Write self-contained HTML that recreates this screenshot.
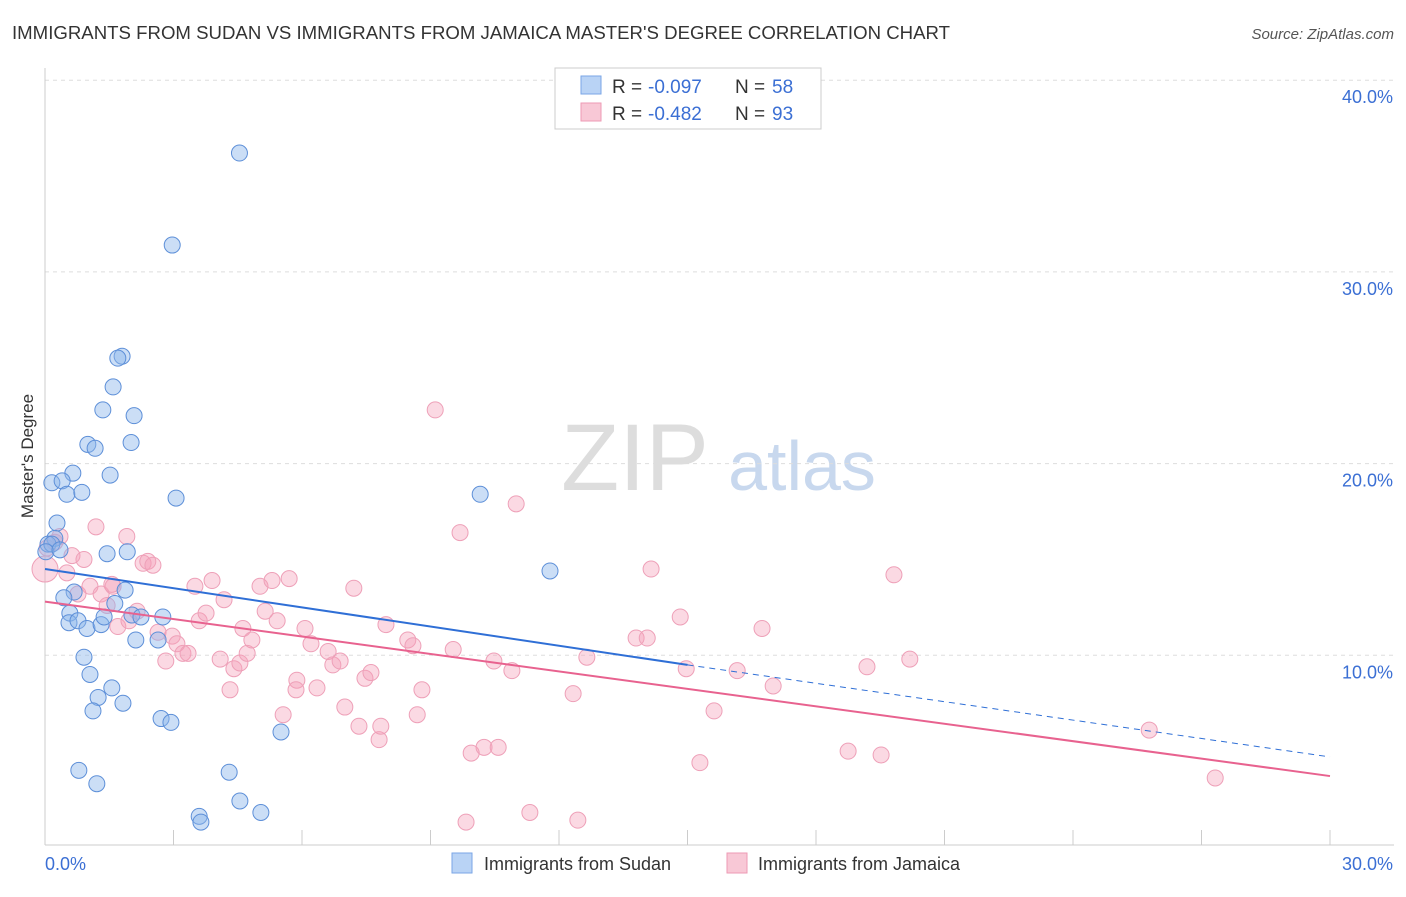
<!DOCTYPE html>
<html><head><meta charset="utf-8">
<style>
body{margin:0;background:#fff;font-family:"Liberation Sans",sans-serif;}
svg text{font-family:"Liberation Sans",sans-serif;}
</style></head>
<body>
<svg id="chart" width="1406" height="892" viewBox="0 0 1406 892" xmlns="http://www.w3.org/2000/svg">
<text x="12" y="39" font-size="18" fill="#333" textLength="938" lengthAdjust="spacingAndGlyphs">IMMIGRANTS FROM SUDAN VS IMMIGRANTS FROM JAMAICA MASTER'S DEGREE CORRELATION CHART</text>
<text x="1394" y="39" font-size="15" font-style="italic" fill="#555" text-anchor="end">Source: ZipAtlas.com</text>
<text transform="translate(33,456) rotate(-90)" font-size="17" fill="#333" text-anchor="middle">Master's Degree</text>
<g>
<text x="635" y="490" font-size="95" font-family="Liberation Serif" fill="#ddd" text-anchor="middle">ZIP</text>
<text x="802" y="490" font-size="70" fill="#c8d8ee" text-anchor="middle">atlas</text>
</g>
<g id="grid"></g>
<g id="marks"></g>
<g>
<rect x="555" y="68" width="266" height="61" fill="#fff" stroke="#ccc"/>
<rect x="581" y="76" width="20" height="18" fill="#b9d3f5" stroke="#7aa6e6"/>
<rect x="581" y="103" width="20" height="18" fill="#f8c8d6" stroke="#ee9ab4"/>
<text x="612" y="93" font-size="19" fill="#333">R = </text>
<text x="648" y="93" font-size="19" fill="#3b6fd4">-0.097</text>
<text x="735" y="93" font-size="19" fill="#333">N = </text>
<text x="772" y="93" font-size="19" fill="#3b6fd4">58</text>
<text x="612" y="120" font-size="19" fill="#333">R = </text>
<text x="648" y="120" font-size="19" fill="#3b6fd4">-0.482</text>
<text x="735" y="120" font-size="19" fill="#333">N = </text>
<text x="772" y="120" font-size="19" fill="#3b6fd4">93</text>
</g>
<g>
<rect x="452" y="853" width="20" height="20" fill="#b9d3f5" stroke="#7aa6e6"/>
<text x="484" y="870" font-size="18" fill="#333">Immigrants from Sudan</text>
<rect x="727" y="853" width="20" height="20" fill="#f8c8d6" stroke="#ee9ab4"/>
<text x="758" y="870" font-size="18" fill="#333">Immigrants from Jamaica</text>
</g>
</svg>
<script>
const xTicks=[0,3,6,9,12,15,18,21,24,27,30];
const yTicks=[10,20,30,40];
const sudanX=[4.54,2.97,1.80,1.70,1.59,1.35,2.08,1.00,2.01,1.17,0.65,1.52,0.16,0.40,0.51,0.86,3.06,10.16,0.28,0.23,0.07,0.16,0.02,0.35,1.92,1.45,11.79,0.68,0.44,1.87,1.63,0.58,0.56,0.77,0.98,1.31,1.38,2.03,2.75,2.24,2.12,2.64,0.91,1.05,1.56,1.24,1.12,1.82,2.71,2.94,5.51,0.79,1.21,4.30,4.55,3.60,3.64,5.04];
const sudanY=[36.2,31.4,25.6,25.5,24.0,22.8,22.5,21.0,21.1,20.8,19.5,19.4,19.0,19.1,18.4,18.5,18.2,18.4,16.9,16.1,15.8,15.8,15.4,15.5,15.4,15.3,14.4,13.3,13.0,13.4,12.7,12.2,11.7,11.8,11.4,11.6,12.0,12.1,12.0,12.0,10.8,10.8,9.9,9.0,8.3,7.8,7.1,7.5,6.7,6.5,6.0,4.0,3.3,3.9,2.4,1.6,1.3,1.8];
const jamX=[0,0.23,0.35,0.05,0.51,0.63,0.91,1.19,0.77,1.05,1.31,1.45,1.59,1.70,1.91,1.56,1.96,2.15,2.29,2.40,2.52,2.64,2.82,2.97,3.08,3.22,3.34,3.50,3.60,3.76,3.90,4.09,4.18,4.32,4.41,4.55,4.62,4.72,4.83,5.02,5.14,5.30,5.42,5.56,5.70,5.88,5.86,6.07,6.21,6.35,6.61,6.72,6.89,7.00,7.21,7.33,7.47,7.61,7.80,7.84,7.96,8.47,8.59,8.69,8.80,9.11,9.53,9.69,9.95,10.25,10.58,10.48,10.90,11.00,9.83,11.32,12.33,12.44,12.65,13.80,14.06,14.15,14.83,14.97,15.29,15.62,16.16,16.74,17.00,18.75,19.19,19.52,19.82,20.19,25.78,27.32];
const jamY=[14.5,15.9,16.2,15.6,14.3,15.2,15.0,16.7,13.2,13.6,13.2,12.6,13.6,11.5,16.2,13.7,11.8,12.3,14.8,14.9,14.7,11.2,9.7,11.0,10.6,10.1,10.1,13.6,11.8,12.2,13.9,9.8,12.9,8.2,9.3,9.6,11.4,10.1,10.8,13.6,12.3,13.9,11.8,6.9,14.0,8.7,8.2,11.4,10.6,8.3,10.2,9.5,9.7,7.3,13.5,6.3,8.8,9.1,5.6,6.3,11.6,10.8,10.5,6.9,8.2,22.8,10.3,16.4,4.9,5.2,5.2,9.7,9.2,17.9,1.3,1.8,8.0,1.4,9.9,10.9,10.9,14.5,12.0,9.3,4.4,7.1,9.2,11.4,8.4,5.0,9.4,4.8,14.2,9.8,6.1,3.6];
const sudanTrend=[0,14.5,13.4,9.5,30,4.7];
const jamTrend=[0,12.8,30,3.7];
const X0=45,X1=1330,Y0=847,PX=(X1-X0)/30,PY=19.17;
const sx=v=>X0+v*PX, sy=v=>Y0-v*PY;
const NS='http://www.w3.org/2000/svg';
function mk(t,a,p){const e=document.createElementNS(NS,t);for(const k in a)e.setAttribute(k,a[k]);p.appendChild(e);return e;}
const grid=document.getElementById('grid'),marks=document.getElementById('marks');
yTicks.forEach(v=>{
 const l=mk('line',{x1:X0,x2:1394,y1:sy(v),y2:sy(v),stroke:'#ddd','stroke-dasharray':'4 4'},grid);
 
 
 const t=mk('text',{x:1393,y:sy(v)+23,'font-size':18,fill:'#3b6fd4','text-anchor':'end'},grid);
 t.textContent=v.toFixed(1)+'%';
 
 
});
const ax=mk('line',{x1:X0,x2:1394,y1:845,y2:845,stroke:'#ccc'},grid);


const ay=mk('line',{x1:X0,x2:X0,y1:68,y2:845,stroke:'#ccc'},grid);


xTicks.forEach(v=>{
 const l=mk('line',{x1:sx(v),x2:sx(v),y1:830,y2:845,stroke:'#ccc'},grid);
 
 
});
[[0,'start'],[30,'end']].forEach(([v,a])=>{
 const t=mk('text',{x:v===0?45:1393,y:870,'font-size':18,fill:'#3b6fd4','text-anchor':a},grid);
 t.textContent=v.toFixed(1)+'%';
 
 
});
jamX.forEach((x,i)=>{
 const c=mk('circle',{cx:sx(x),cy:sy(jamY[i]),r:i===0?13:8,fill:'rgba(244,160,186,0.4)',stroke:'#eea0b8','stroke-width':1},marks);
 
 
});
sudanX.forEach((x,i)=>{
 const c=mk('circle',{cx:sx(x),cy:sy(sudanY[i]),r:8,fill:'rgba(140,182,236,0.45)',stroke:'#5d8fd8','stroke-width':1},marks);
 
 
});
const s1=mk('line',{x1:sx(sudanTrend[0]),y1:sy(sudanTrend[1]),x2:sx(15),y2:sy(sudanTrend[3]),stroke:'#2f6fd6','stroke-width':2},marks);


const s2=mk('line',{x1:sx(15),y1:sy(sudanTrend[3]),x2:sx(sudanTrend[4]),y2:sy(sudanTrend[5]),stroke:'#2f6fd6','stroke-width':1,'stroke-dasharray':'6 5'},marks);


const j1=mk('line',{x1:sx(jamTrend[0]),y1:sy(jamTrend[1]),x2:sx(jamTrend[2]),y2:sy(jamTrend[3]),stroke:'#e8628f','stroke-width':2},marks);


</script>
</body></html>
